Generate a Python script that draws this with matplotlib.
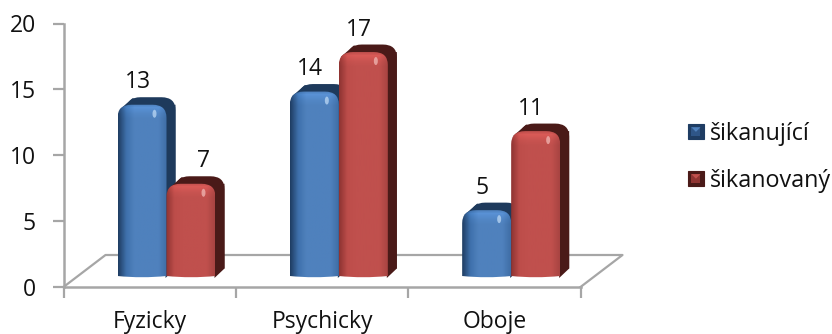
import numpy as np
import matplotlib
matplotlib.use("Agg")
import matplotlib.pyplot as plt
from matplotlib.path import Path
from matplotlib.patches import PathPatch, Polygon, Rectangle, Ellipse
from matplotlib.colors import LinearSegmentedColormap
from matplotlib.legend_handler import HandlerBase

categories = ["Fyzicky", "Psychicky", "Oboje"]
series_names = ["šikanující", "šikanovaný"]
sikanujici = [13, 14, 5]
sikanovany = [7, 17, 11]
y_ticks = [0, 5, 10, 15, 20]

plt.rcParams["font.family"] = ["Open Sans", "DejaVu Sans"]
W, H = 832, 334
fig = plt.figure(figsize=(W / 100, H / 100), dpi=100, facecolor="white")
L, R, T, B = 63.5, 580.5, 23.5, 287.0
ax = fig.add_axes([L / W, 1 - B / H, (R - L) / W, (B - T) / H])
ax.set_xlim(0, 3)
ax.set_ylim(0, 20)
PX = (R - L) / 3
PY = (B - T) / 20
BASE = 11 / PY
BAR_W = 49 / PX
DX, DY = 9 / PX, 7.5 / PY
RX, RY = 14 / PX, 13 / PY
TXT = "#111111"

def shape(x0, x1, y0, y1):
    s = 2.5 / PY
    v = [(x0, y0), (x0, y1 - RY), (x0, y1), (x0 + RX, y1), (x1 - RX, y1), (x1, y1), (x1, y1 - RY),
         (x1, y0), ((x0 + x1) / 2, y0 - s), (x0, y0), (x0, y0)]
    c = [Path.MOVETO, Path.LINETO, Path.CURVE3, Path.CURVE3, Path.LINETO, Path.CURVE3, Path.CURVE3,
         Path.LINETO, Path.CURVE3, Path.CURVE3, Path.CLOSEPOLY]
    return Path(v, c)

def gradient(cols):
    return LinearSegmentedColormap.from_list("g", cols)

blue = gradient(["#1f3d63", "#3f71ac", "#4f81bd", "#4f81bd", "#4f81bd", "#4f81bd", "#3f6ea6"])
red = gradient(["#8f3432", "#bd4d4a", "#c0504d", "#c0504d", "#c0504d", "#c0504d", "#a84442"])
blue_side, red_side = "#1e3a5c", "#4a1a18"

def bevel_image(cmap, height_px):
    rows = max(int(height_px), 2)
    col = cmap(np.linspace(0, 1, 64))[:, :3]
    d = np.arange(rows)
    f = np.interp(d, [0, 3, 9, 14], [1.0, 1.13, 1.04, 1.0])
    return np.clip(col[None, :, :] * f[:, None, None], 0, 1)

def bar(x, v, cmap, side, glint, lab_dx):
    y0, y1 = BASE, BASE + v
    back = shape(x + DX, x + BAR_W + DX, y0 + DY, y1 + DY)
    ax.add_patch(PathPatch(back, fc=side, ec="none", zorder=3))
    ax.add_patch(Polygon([(x + 2 / PX, y1 - 5 / PY), (x + DX + 6 / PX, y1 + DY - 1 / PY),
                          (x + BAR_W + DX, y1 + DY - RY), (x + BAR_W, y1)], fc=side, ec="none", zorder=3))
    ax.add_patch(Polygon([(x + BAR_W - 1 / PX, y0 - 0.15), (x + BAR_W + DX, y0 + DY),
                          (x + BAR_W + DX, y1), (x + BAR_W - 1 / PX, y1)], fc=side, ec="none", zorder=3))
    front = PathPatch(shape(x, x + BAR_W, y0, y1), fc="none", ec="none", zorder=4)
    ax.add_patch(front)
    im = ax.imshow(bevel_image(cmap, (v + 1) * PY), aspect="auto", zorder=4, origin="upper",
                   extent=[x, x + BAR_W, y0 - 1, y1], interpolation="bilinear")
    im.set_clip_path(front)
    ax.add_patch(Ellipse((x + BAR_W - 12 / PX, y1 - 9 / PY), 4 / PX, 8 / PY, angle=0, fc=glint, ec="none",
                         alpha=0.75, zorder=5))
    ax.text(x + lab_dx / PX, y1 + 16.5 / PY, str(v), ha="center", va="baseline", fontsize=16.5,
            color=TXT, zorder=6)

grey = "#a6a6a6"
fx, fy = 42 / PX, 32 / PY
ax.plot([0, fx, 3 + fx, 3], [0, fy, fy, 0], color=grey, lw=1.6, clip_on=False, zorder=1)

OFFSET = 54 / PX
for i, (a, b) in enumerate(zip(sikanujici, sikanovany)):
    bar(i + OFFSET, a, blue, blue_side, "#bcd8f4", 20)
    bar(i + OFFSET + BAR_W, b, red, red_side, "#f0b8b4", 37 if b < 10 else 20)

ax.set_xlim(0, 3)
ax.set_ylim(0, 20)
ax.set_xticks(range(4))
ax.set_xticklabels([])
ax.set_xticks([0.5, 1.5, 2.5], categories, minor=True)
ax.tick_params(axis="x", which="minor", length=0, pad=16.5, labelsize=16.5, labelcolor=TXT)
ax.set_yticks(y_ticks)
ax.tick_params(axis="y", labelsize=16.5, labelcolor=TXT, pad=12)
ax.tick_params(axis="both", which="major", length=8, width=1.6, color=grey)
for s in ("top", "right"):
    ax.spines[s].set_visible(False)
for s in ("left", "bottom"):
    ax.spines[s].set_color(grey)
    ax.spines[s].set_linewidth(1.8)
ax.patch.set_alpha(0)

class PyramidHandler(HandlerBase):
    def __init__(self, edge, mid, light):
        super().__init__()
        self.c = (edge, mid, light)
    def create_artists(self, legend, orig, xd, yd, w, h, fontsize, trans):
        edge, mid, light = self.c
        s = min(w, h)
        x0, y0 = -xd, -yd
        x1, y1 = x0 + s, y0 + s
        cx, cy = x0 + s / 2, y0 + s / 2
        m = s * 0.2
        return [Rectangle((x0, y0), s, s, fc=edge, ec=edge, lw=0.8, transform=trans),
                Rectangle((x0 + m, y0 + m), s - 2 * m, s - 2 * m, fc=mid, ec="none", transform=trans),
                Polygon([(x0 + m, y1 - m), (cx, cy), (x1 - m, y1 - m)], fc=light, ec="none", transform=trans)]

h1, h2 = Rectangle((0, 0), 1, 1), Rectangle((0, 0), 1, 1)
leg = fig.legend([h1, h2], series_names, loc="upper left", bbox_to_anchor=(682.5 / W, 1 - 116 / H),
                 frameon=False, fontsize=16.8, handlelength=0.65, handleheight=0.65, handletextpad=0.28,
                 labelspacing=0.98, borderpad=0.25, borderaxespad=0, labelcolor=TXT,
                 handler_map={h1: PyramidHandler("#1f3d63", "#2f5688", "#4f81bd"),
                              h2: PyramidHandler("#4a1a18", "#8f3432", "#c0504d")})
fig.savefig("out.png", dpi=100, facecolor="white")
